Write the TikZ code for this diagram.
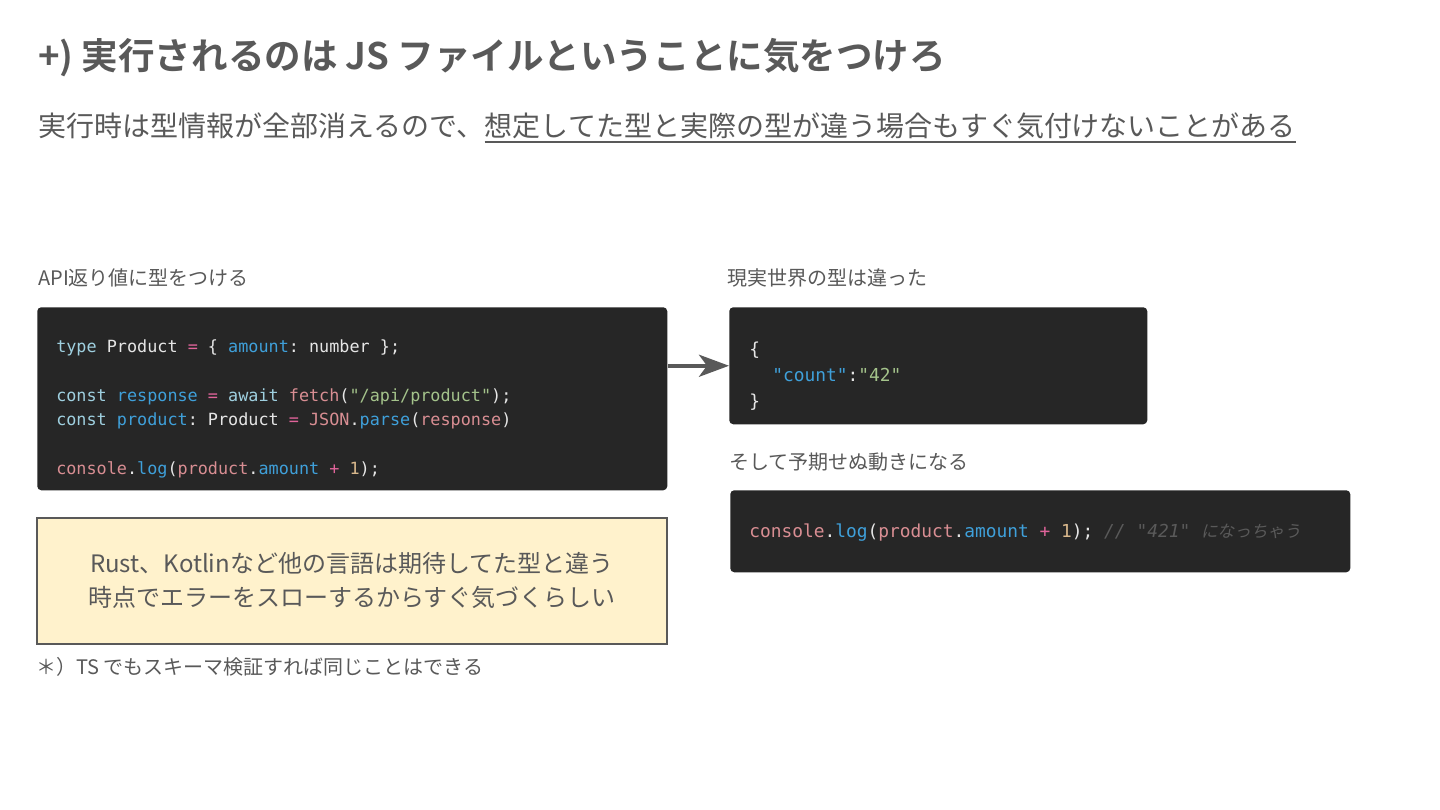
\documentclass[tikz,border=0pt]{standalone}
\usepackage{fontspec}
\usetikzlibrary{arrows.meta,calc}
\setmainfont{Noto Sans CJK JP}[BoldFont={Noto Sans CJK JP Bold}]
\newfontfamily\jp{Noto Sans CJK JP}
\newfontfamily\jpit{Noto Sans CJK JP}[FakeSlant=0.2]
\newfontfamily\codefont{DejaVu Sans Mono}
\definecolor{txt}{HTML}{595959}
\definecolor{codebg}{HTML}{262626}
\definecolor{ckw}{HTML}{9FD0E0}
\definecolor{cvar}{HTML}{3FA0DA}
\definecolor{cpink}{HTML}{E0649A}
\definecolor{csal}{HTML}{D98E93}
\definecolor{cgreen}{HTML}{A4C38B}
\definecolor{cnum}{HTML}{D9B88C}
\definecolor{cwh}{HTML}{E6E6E6}
\definecolor{ccom}{HTML}{5A5A5A}
\definecolor{note}{HTML}{FFF2CC}
\newcommand\tk[2]{\textcolor{#1}{#2}}
\frenchspacing
\tikzset{
  jptext/.style={anchor=west, inner sep=0pt, text=txt, text height=0.88em, text depth=0.12em},
  codebox/.style={fill=codebg, draw=none, rounded corners=3pt, anchor=north west, inner sep=0pt},
  codeline/.style={anchor=west, inner sep=0pt, text=cwh, text height=0.75em, text depth=0.25em},
  arr/.style={draw=txt, line width=3pt, -{Stealth[length=22.5pt, width=16.5pt, inset=6pt]}},
}
\begin{document}
\begin{tikzpicture}[x=0.75pt, y=-0.75pt]
\useasboundingbox[fill=white] (0,0) rectangle (1440,810);

% title
\node[jptext, font=\fontsize{27.4pt}{32pt}\selectfont\bfseries, text=txt] (title) at (38,64)
  {+) 実行されるのは JS ファイルということに気をつけろ};

% subtitle
\node[jptext, font=\fontsize{21pt}{26pt}\selectfont] (sub1) at (38,131)
  {実行時は型情報が全部消えるので、};
\node[jptext, font=\fontsize{21pt}{26pt}\selectfont] (sub2) at (sub1.east)
  {想定してた型と実際の型が違う場合もすぐ気付けないことがある};
\draw[txt, line width=1.8pt] ([yshift=-3pt]sub2.south west) -- ([yshift=-3pt]sub2.south east);

% labels
\node[jptext, font=\fontsize{15pt}{18pt}\selectfont] (lab1) at (38,280) {API返り値に型をつける};
\node[jptext, font=\fontsize{15pt}{18pt}\selectfont] (lab2) at (727,280) {現実世界の型は違った};
\node[jptext, font=\fontsize{15pt}{18pt}\selectfont] (lab3) at (729,464) {そして予期せぬ動きになる};

% code box 1
\node[codebox, minimum width=472.5pt, minimum height=137.25pt] (box1) at (37,307) {};
\begin{scope}[every node/.style={codeline, font=\codefont\fontsize{12.6pt}{15pt}\selectfont}]
\node (c11) at (56,349) {\tk{ckw}{type} Product \tk{cpink}{=} \{ \tk{cvar}{amount}: number \};};
\node (c12) at (56,398) {\tk{ckw}{const} \tk{cvar}{response} \tk{cpink}{=} \tk{ckw}{await} \tk{csal}{fetch}(\tk{cgreen}{"/api/product"});};
\node (c13) at (56,422) {\tk{ckw}{const} \tk{cvar}{product}: Product \tk{cpink}{=} \tk{csal}{JSON}.\tk{cvar}{parse}(\tk{csal}{response})};
\node (c14) at (56,471) {\tk{csal}{console}.\tk{cvar}{log}(\tk{csal}{product}.\tk{cvar}{amount} \tk{cpink}{+} \tk{cnum}{1});};
\end{scope}

% code box 2
\node[codebox, minimum width=313.5pt, minimum height=87.75pt] (box2) at (729,307) {};
\begin{scope}[every node/.style={codeline, font=\codefont\fontsize{13.4pt}{16pt}\selectfont}]
\node (c21) at (749,352) {\{};
\node (c22) at (772,378) {\tk{cvar}{"count"}:\tk{cgreen}{"42"}};
\node (c23) at (749,404) {\}};
\end{scope}

% code box 3
\node[codebox, minimum width=465pt, minimum height=61.5pt] (box3) at (730,490) {};
\node[codeline, font=\codefont\fontsize{13.4pt}{16pt}\selectfont] (c31) at (749,534)
  {\tk{csal}{console}.\tk{cvar}{log}(\tk{csal}{product}.\tk{cvar}{amount} \tk{cpink}{+} \tk{cnum}{1}); \tk{ccom}{\itshape // "421" {\jpit\fontsize{12.5pt}{16pt}\selectfont になっちゃう}}};

% arrow
\draw[arr] (box1.east |- box2.west) -- (box2.west);

% note box
\node[draw=txt, line width=1.2pt, fill=note, anchor=north west, minimum width=472.5pt, minimum height=94.5pt,
      inner sep=0pt, align=center, text=txt, font=\fontsize{18pt}{25.5pt}\selectfont] (note) at (36,517)
  {Rust、Kotlinなど他の言語は期待してた型と違う\\時点でエラーをスローするからすぐ気づくらしい};

% footnote
\node[jptext, font=\fontsize{15pt}{18pt}\selectfont] (foot) at (36,669) {＊）TS でもスキーマ検証すれば同じことはできる};
\end{tikzpicture}
\end{document}
